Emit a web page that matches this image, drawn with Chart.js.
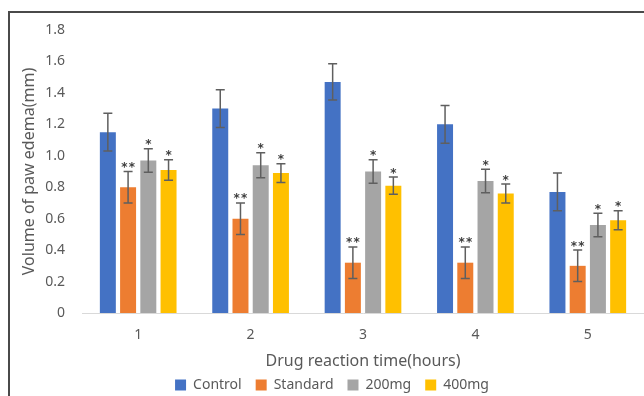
<!DOCTYPE html>
<html lang="en">
<head>
<meta charset="utf-8">
<title>Volume of paw edema</title>
<script src="https://cdn.jsdelivr.net/npm/chart.js@4/dist/chart.umd.min.js"></script>
<style>
  html, body { margin: 0; padding: 0; background: #fff; }
  body { width: 644px; height: 396px; position: relative; overflow: hidden; }
  #frame {
    position: absolute; left: 8px; top: 11px; right: -4px; bottom: -4px;
    border-left: 2px solid #4a4a4a; border-top: 2px solid #4a4a4a;
  }
  /* canvas is a bit taller than the window so the legend sits low like the original */
  #chart-box { position: absolute; left: 0; top: 0; width: 644px; height: 402px; }
</style>
</head>
<body>
<div id="frame"></div>
<div id="chart-box"><canvas id="edema"></canvas></div>
<script>
// ==========================
// DATA
// ==========================
const hours = ["1", "2", "3", "4", "5"];
const seriesNames = ["Control", "Standard", "200mg", "400mg"];

const control = [1.15, 1.30, 1.47, 1.20, 0.77];
const standard = [0.80, 0.60, 0.32, 0.32, 0.30];
const dose200 = [0.97, 0.94, 0.90, 0.84, 0.56];
const dose400 = [0.91, 0.89, 0.81, 0.76, 0.59];

const controlErr = [0.12, 0.12, 0.115, 0.12, 0.12];
const standardErr = [0.10, 0.10, 0.10, 0.10, 0.10];
const dose200Err = [0.075, 0.08, 0.075, 0.075, 0.075];
const dose400Err = [0.065, 0.06, 0.055, 0.06, 0.06];

// significance marks drawn above each error bar
const marks = ["", "**", "*", "*"];

const yTicks = [0, 0.2, 0.4, 0.6, 0.8, 1, 1.2, 1.4, 1.6, 1.8];

const COLORS = ["#4472C4", "#ED7D31", "#A5A5A5", "#FFC000"];
const TEXT = "#595959";
const FONT = "'Noto Sans', 'Open Sans', sans-serif";

document.addEventListener("DOMContentLoaded", function () {
  const values = [control, standard, dose200, dose400];
  const errors = [controlErr, standardErr, dose200Err, dose400Err];

  const datasets = seriesNames.map((name, i) => ({
    label: name,
    data: values[i],
    errors: errors[i],
    mark: marks[i],
    backgroundColor: COLORS[i],
    borderWidth: 0,
    categoryPercentage: 0.72,
    barPercentage: 0.79,
  }));

  // ==========================
  // ERROR BARS + ASTERISKS
  // ==========================
  const errorBars = {
    id: "errorBars",
    afterDatasetsDraw(chart) {
      const ctx = chart.ctx;
      const y = chart.scales.y;
      ctx.save();
      chart.data.datasets.forEach((ds, di) => {
        const meta = chart.getDatasetMeta(di);
        meta.data.forEach((bar, i) => {
          const v = ds.data[i];
          const e = ds.errors[i];
          const top = y.getPixelForValue(v + e);
          const bottom = y.getPixelForValue(v - e);
          ctx.strokeStyle = "#5f5f5f";
          ctx.lineWidth = 1.5;
          ctx.beginPath();
          ctx.moveTo(bar.x, top);
          ctx.lineTo(bar.x, bottom);
          ctx.moveTo(bar.x - 4.5, top);
          ctx.lineTo(bar.x + 4.5, top);
          ctx.moveTo(bar.x - 4.5, bottom);
          ctx.lineTo(bar.x + 4.5, bottom);
          ctx.stroke();

          // one star per character, 7.5px apart, centred over the bar
          const n = ds.mark.length;
          ctx.fillStyle = "#404040";
          ctx.font = "bold 12px 'DejaVu Sans', sans-serif";
          ctx.textAlign = "center";
          ctx.textBaseline = "alphabetic";
          for (let k = 0; k < n; k++) {
            const sx = bar.x + (k - (n - 1) / 2) * 7.5;
            ctx.fillText("*", sx, top - 0.5);
          }
        });
      });
      ctx.restore();
    },
  };

  new Chart(document.getElementById("edema"), {
    type: "bar",
    data: { labels: hours, datasets: datasets },
    options: {
      responsive: true,
      maintainAspectRatio: false,
      animation: false,
      layout: { padding: { left: 20, right: 0, top: 30, bottom: 0 } },
      plugins: {
        legend: {
          position: "bottom",
          labels: {
            boxWidth: 11,
            boxHeight: 11,
            padding: 14,
            color: TEXT,
            font: { family: FONT, size: 14 },
          },
        },
        tooltip: { enabled: false },
      },
      scales: {
        x: {
          grid: { display: false, drawTicks: false },
          border: { display: true, color: "#d9d9d9", width: 1 },
          ticks: { color: TEXT, padding: 14, font: { family: FONT, size: 14 } },
          title: {
            display: true,
            text: "Drug reaction time(hours)",
            color: TEXT,
            padding: { top: -6, bottom: -7 },
            font: { family: FONT, size: 16 },
          },
        },
        y: {
          min: 0,
          max: 1.8,
          afterBuildTicks(axis) {
            axis.ticks = yTicks.map((v) => ({ value: v }));
          },
          afterFit(axis) {
            axis.width = 62;
          },
          grid: { display: false, drawTicks: false },
          border: { display: false },
          ticks: { color: TEXT, padding: 17, font: { family: FONT, size: 14 } },
          title: {
            display: true,
            text: "Volume of paw edema(mm)",
            color: TEXT,
            padding: { top: 0, bottom: 0 },
            font: { family: FONT, size: 16 },
          },
        },
      },
    },
    plugins: [errorBars],
  });
});
</script>
</body>
</html>
